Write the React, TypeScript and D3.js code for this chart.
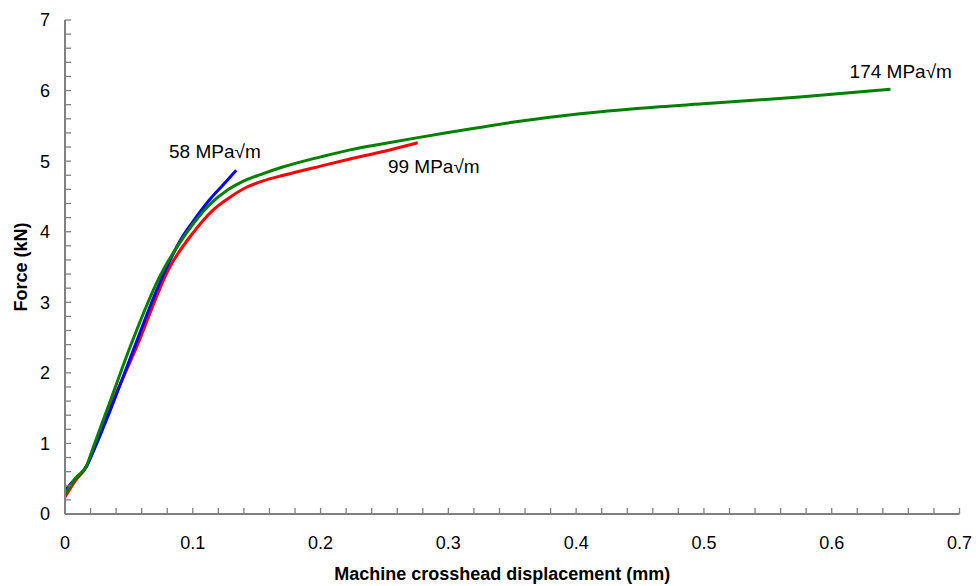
import React from "react";
import * as d3 from "d3";

const xTicks = [0, 0.1, 0.2, 0.3, 0.4, 0.5, 0.6, 0.7];
const yTicks = [0, 1, 2, 3, 4, 5, 6, 7];

const blueX = [0, 0.008, 0.017, 0.022, 0.035, 0.053, 0.074, 0.092, 0.1, 0.113, 0.124, 0.134];
const blueY = [0.33, 0.5, 0.68, 0.88, 1.45, 2.3, 3.27, 3.93, 4.14, 4.45, 4.67, 4.87];

const redX = [0, 0.008, 0.017, 0.022, 0.035, 0.055, 0.082, 0.1, 0.116, 0.13, 0.142, 0.155, 0.171, 0.2, 0.223, 0.25, 0.276];
const redY = [0.24, 0.47, 0.68, 0.9, 1.5, 2.32, 3.5, 3.98, 4.31, 4.5, 4.63, 4.72, 4.8, 4.93, 5.03, 5.14, 5.26];

const greenX = [0, 0.008, 0.017, 0.022, 0.035, 0.051, 0.074, 0.095, 0.113, 0.128, 0.14, 0.153, 0.171, 0.2, 0.223, 0.25, 0.275, 0.301, 0.35, 0.403, 0.45, 0.505, 0.575, 0.646];
const greenY = [0.28, 0.5, 0.69, 0.94, 1.58, 2.37, 3.36, 3.98, 4.38, 4.6, 4.72, 4.81, 4.92, 5.06, 5.16, 5.25, 5.33, 5.41, 5.55, 5.67, 5.75, 5.82, 5.91, 6.02];

const labels = [
  { text: "58 MPa\u221Am", x: 0.0814, y: 5.04 },
  { text: "99 MPa\u221Am", x: 0.2527, y: 4.83 },
  { text: "174 MPa\u221Am", x: 0.614, y: 6.18 },
];

const W = 976;
const H = 586;
const x = d3.scaleLinear().domain([0, 0.7]).range([65, 959.5]);
const y = d3.scaleLinear().domain([0, 7]).range([514, 20]);

function toPts(xs: number[], ys: number[]): [number, number][] {
  return xs.map((v, i) => [v, ys[i]]);
}

export default function App() {
  const line = d3
    .line<[number, number]>()
    .x((d) => x(d[0]))
    .y((d) => y(d[1]))
    .curve(d3.curveMonotoneX);

  const xMinor = d3.range(0, 0.7001, 0.02);
  const yMinor = d3.range(0, 7.001, 0.2);
  const font = "'Liberation Sans', Arial, sans-serif";
  const axisColor = "#808080";

  return (
    <svg width={W} height={H} style={{ position: "absolute", left: 0, top: 0, background: "#fff" }} fontFamily={font}>
      <rect width={W} height={H} fill="#fff" />
      {/* series */}
      <path d={line(toPts(redX, redY)) || ""} fill="none" stroke="#ff0000" strokeWidth={3} />
      <path d={line(toPts(blueX, blueY)) || ""} fill="none" stroke="#0000ff" strokeWidth={3} />
      <path d={line(toPts(greenX, greenY)) || ""} fill="none" stroke="#008000" strokeWidth={3} />

      {/* y axis */}
      <line x1={x(0)} x2={x(0)} y1={y(7)} y2={y(0)} stroke={axisColor} strokeWidth={2} />
      {yMinor.map((v, i) => (
        <line key={"ym" + i} x1={x(0)} x2={x(0) + 6} y1={y(v)} y2={y(v)} stroke={axisColor} strokeWidth={1.3} />
      ))}
      {yTicks.map((v) => (
        <text key={"yt" + v} x={x(0) - 15} y={y(v)} dy="0.36em" textAnchor="end" fontSize={18} fill="#000">
          {v}
        </text>
      ))}

      {/* x axis */}
      <line x1={x(0)} x2={x(0.7)} y1={y(0)} y2={y(0)} stroke={axisColor} strokeWidth={2} />
      {xMinor.map((v, i) => (
        <line key={"xm" + i} x1={x(v)} x2={x(v)} y1={y(0)} y2={y(0) - 6} stroke={axisColor} strokeWidth={1.3} />
      ))}
      {xTicks.map((v) => (
        <text key={"xt" + v} x={x(v)} y={y(0) + 35} textAnchor="middle" fontSize={18} fill="#000">
          {v}
        </text>
      ))}

      {/* axis titles */}
      <text x={(x(0) + x(0.7)) / 2 - 10} y={580} textAnchor="middle" fontSize={18} fontWeight="bold" fill="#000">
        Machine crosshead displacement (mm)
      </text>
      <text
        transform={`translate(27, ${(y(0) + y(7)) / 2}) rotate(-90)`}
        textAnchor="middle"
        fontSize={18}
        fontWeight="bold"
        fill="#000"
      >
        Force (kN)
      </text>

      {/* annotations */}
      {labels.map((l) => (
        <text key={l.text} x={x(l.x)} y={y(l.y)} textAnchor="start" fontSize={19} fill="#000">
          {l.text}
        </text>
      ))}
    </svg>
  );
}
